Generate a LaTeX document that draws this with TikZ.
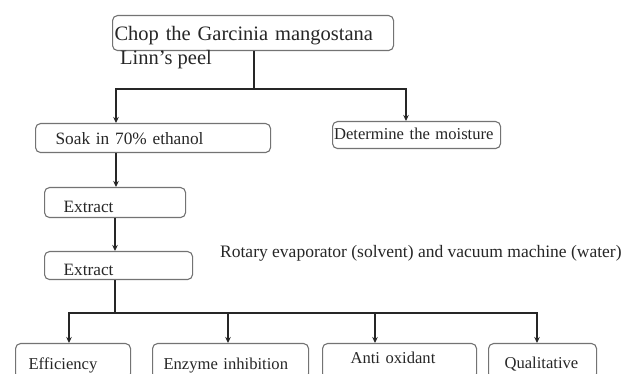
\documentclass[tikz,border=0pt]{standalone}
\usepackage{fontspec}
\setmainfont{Liberation Serif}
\usetikzlibrary{arrows.meta}

\begin{document}
\begin{tikzpicture}[x=1pt, y=-1pt,
  stepbox/.style={draw=black!55, line width=1.1pt, rounded corners=5pt, anchor=north west,
    inner ysep=0pt, align=left, text=black!85, font=\fontsize{17.3}{20}\selectfont},
  bottombox/.style={stepbox, font=\fontsize{16.6}{20}\selectfont},
  flow/.style={line width=1.4pt, black!85},
  flowarrow/.style={flow, -{Stealth[length=6pt, width=5.5pt]}}]
  \useasboundingbox (0,0) rectangle (622,374);
  % first step, its second line sits below the box
  \node[stepbox, font=\fontsize{20.5}{24}\selectfont, inner xsep=2pt, text width=277pt,
    text height=25pt, text depth=10pt] (chop) at (112,15) {Chop the Garcinia mangostana};
  \node[anchor=base west, inner sep=0pt, text=black!85, font=\fontsize{20.5}{24}\selectfont] (peel) at (120,65) {Linn’s peel};
  \node[stepbox, inner xsep=20pt, text width=195pt, text height=21pt, text depth=8pt] (soak) at (35,123) {Soak in 70\% ethanol};
  \node[stepbox, font=\fontsize{16.6}{20}\selectfont, inner xsep=1.5pt, text width=165pt, text height=18pt, text depth=9pt] (moist) at (332,121) {\mbox{Determine the moisture}};
  \node[stepbox, inner xsep=19pt, text width=103pt, text height=25pt, text depth=5pt] (extract1) at (44,187) {Extract};
  \node[stepbox, inner xsep=19pt, text width=110pt, text height=24pt, text depth=4pt] (extract2) at (44,251) {Extract};
  \node[anchor=base west, inner sep=0pt, text=black!85, font=\fontsize{17.5}{20}\selectfont] (rotary) at (220,258) {Rotary evaporator (solvent) and vacuum machine (water)};
  % results, cut off by the lower edge
  \node[bottombox, inner xsep=13pt, text width=89pt, text height=26pt, text depth=9pt] (eff) at (15,343) {Efficiency};
  \node[bottombox, inner xsep=11pt, text width=134pt, text height=26pt, text depth=9pt] (enz) at (152,343) {Enzyme inhibition};
  \node[bottombox, inner xsep=28pt, text width=98pt, text height=20pt, text depth=15pt] (anti) at (322,343) {Anti oxidant};
  \node[bottombox, inner xsep=16pt, text width=76pt, text height=25pt, text depth=10pt] (qual) at (488,343) {Qualitative};

  \coordinate (split1) at (254,89);
  \coordinate (split2) at (115,313);
  \draw[flow] (split1 |- chop.south) -- (split1);
  \draw[flowarrow] (split1) -| ([xshift=81pt]soak.north west);
  \draw[flowarrow] (split1) -| ([xshift=74pt]moist.north west);
  \draw[flowarrow] ([xshift=81pt]soak.south west) -- ([xshift=72pt]extract1.north west);
  \draw[flowarrow] ([xshift=71pt]extract1.south west) -- ([xshift=71pt]extract2.north west);
  \draw[flow] ([xshift=71pt]extract2.south west) -- (split2);
  \draw[flowarrow] (split2) -| ([xshift=54pt]eff.north west);
  \draw[flowarrow] (split2) -| ([xshift=76pt]enz.north west);
  \draw[flowarrow] (split2) -| ([xshift=53pt]anti.north west);
  \draw[flowarrow] (split2) -| ([xshift=49pt]qual.north west);
\end{tikzpicture}
\end{document}
